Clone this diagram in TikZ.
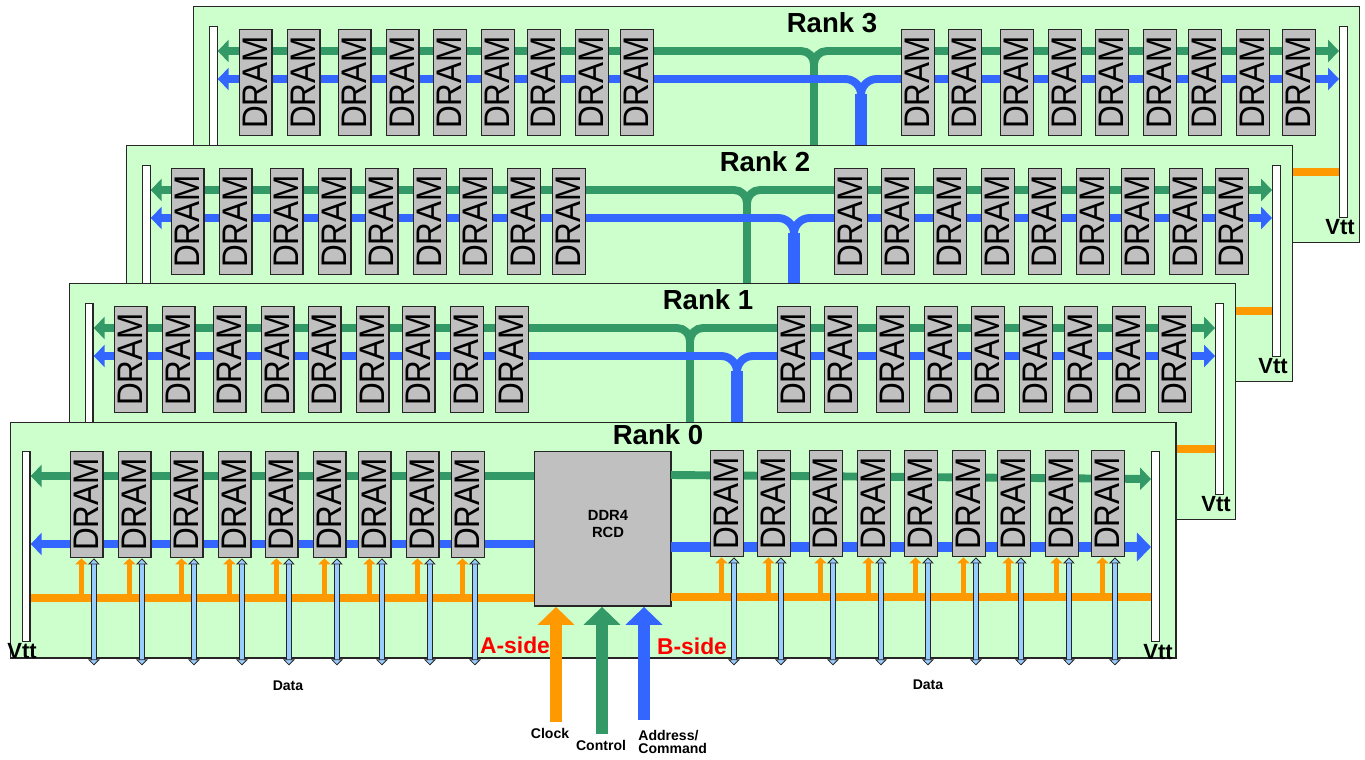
\documentclass[tikz,border=0pt]{standalone}
\usepackage{fontspec}
\usepackage{graphicx}
\setmainfont{Liberation Sans}
\usetikzlibrary{arrows.meta}
\definecolor{boardgreen}{HTML}{CCFFCC}
\definecolor{chipgray}{HTML}{C0C0C0}
\definecolor{ctrlgreen}{HTML}{339966}
\definecolor{addrblue}{HTML}{3366FF}
\definecolor{clkorange}{HTML}{FF9900}
\definecolor{databus}{HTML}{99CCFF}
\begin{document}
\begin{tikzpicture}[x=0.02cm, y=-0.02cm,
    board/.style={draw=black!85, fill=boardgreen, line width=.7pt, anchor=north west, inner sep=0pt, minimum width=23.32cm, minimum height=4.72cm},
    chip/.style={draw=black!85, fill=chipgray, line width=.8pt, anchor=north west, inner sep=0pt, minimum width=.65cm, minimum height=2.12cm, font=\fontsize{17.9}{18}\selectfont},
    bar/.style={draw=black!85, fill=white, line width=.7pt, anchor=north west, inner sep=0pt, minimum width=.15cm},
    ranklabel/.style={font=\fontsize{15.7}{16}\selectfont\bfseries, inner sep=0pt},
    vttlabel/.style={font=\fontsize{12.5}{13}\selectfont\bfseries, inner sep=0pt},
    smalllabel/.style={font=\fontsize{8}{7.4}\selectfont\bfseries, inner sep=0pt, align=center},
    sidelabel/.style={font=\fontsize{13}{14}\selectfont\bfseries, text=red, inner sep=0pt},
    bus/.style={line width=4.5pt, -{Triangle[length=6.2pt,width=12.5pt]}},
    stub/.style={clkorange, line width=2.6pt, {Triangle[length=3.4pt,width=7pt]}-},
    data/.style={draw=black!85, line width=.45pt, double=databus, double distance=2.6pt, {Triangle[length=3.4pt,width=6.6pt,fill=databus]}-{Triangle[length=3.4pt,width=6.6pt,fill=databus]}},
    bigarrow/.style={line width=7.2pt, -{Triangle[length=10.2pt,width=20.4pt]}}]

    \useasboundingbox (0,0) rectangle (1365,760);

    % Define the three rear ranks (back to front)
    \foreach \r/\bx/\by/\lx in {3/193/6/46, 2/126/145/45, 1/69/283/45} {
        \begin{scope}[shift={(\bx,\by)}]
            \node[board] (B\r) at (0,0) {};
            \node[bar, minimum height=2.4cm] (VL\r) at (16,20) {};
            \node[bar, minimum height=3.82cm] (VR\r) at (1146,20) {};
            \coordinate (GJ\r) at (621,45);
            \coordinate (BJ\r) at (668,73);
            \coordinate (CK\r) at (1000,166);

            % Draw the buses branching off the vertical feeds
            \draw[ctrlgreen, bus, rounded corners=7.4pt] (GJ\r |- B\r.south) -- (GJ\r) -- (VL\r.east |- GJ\r);
            \draw[ctrlgreen, bus, rounded corners=7.4pt] (GJ\r |- B\r.south) -- (GJ\r) -- (VR\r.west |- GJ\r);
            \draw[addrblue, bus, rounded corners=9pt] (BJ\r |- B\r.south) -- (BJ\r) -- (VL\r.east |- BJ\r);
            \draw[addrblue, bus, rounded corners=9pt] (BJ\r |- B\r.south) -- (BJ\r) -- (VR\r.west |- BJ\r);
            \draw[addrblue, line width=6.6pt] ([yshift=-.3cm]BJ\r) -- (BJ\r |- B\r.south);
            \draw[clkorange, line width=4pt] (CK\r) -- (VR\r.west |- CK\r);

            % Define the chips of both sides
            \foreach \i/\dx in {1/0, 2/48, 3/99, 4/147, 5/194, 6/242, 7/288, 8/336, 9/381} {
                \node[chip] (A\r\i) at (\lx+\dx,23) {\rotatebox{90}{\raisebox{1pt}{\scalebox{1}[1.13]{DRAM}}}};
            }
            \foreach \i/\dx in {1/0, 2/47, 3/99, 4/147, 5/194, 6/242, 7/287, 8/335, 9/381} {
                \node[chip] (C\r\i) at (708+\dx,23) {\rotatebox{90}{\raisebox{1pt}{\scalebox{1}[1.13]{DRAM}}}};
            }
            \node[ranklabel] (T\r) at (639,17) {Rank \r};
            \node[vttlabel] (W\r) at (1147,221) {Vtt};
        \end{scope}
    }

    % Define the front rank
    \node[board, minimum width=23.31cm, minimum height=4.71cm] (B0) at (10,422) {};
    \node[ranklabel] (T0) at (658,435) {Rank 0};
    \node[bar, minimum height=3.8cm] (VL0) at (22,451) {};
    \node[bar, minimum height=3.8cm] (VR0) at (1151,451) {};
    \node[draw=black!85, fill=chipgray, line width=.8pt, anchor=north west, inner sep=0pt, minimum width=2.73cm, minimum height=3.09cm] (RCD) at (534,451) {};
    \node[font=\fontsize{8.4}{10.2}\selectfont\bfseries, align=center, inner sep=0pt] (RT) at (608,524) {DDR4\\RCD};
    \coordinate (GA) at (534,476);
    \coordinate (GB) at (671,475);
    \coordinate (GE) at (1151,479);
    \coordinate (AA) at (534,544);
    \coordinate (AB) at (671,547);
    \coordinate (KA) at (534,598);
    \coordinate (KB) at (671,597);

    % Draw the front rank buses
    \draw[ctrlgreen, bus] (GA) -- (VL0.east |- GA);
    \draw[ctrlgreen, bus] (GB) -- (GE);
    \draw[addrblue, bus] (AA) -- (VL0.east |- AA);
    \draw[addrblue, line width=5.6pt, -{Triangle[length=8pt,width=16pt]}] (AB) -- (VR0.west |- AB);
    \draw[clkorange, line width=4pt] (KA) -- (VL0.east |- KA);
    \draw[clkorange, line width=4pt] (KB) -- (VR0.west |- KB);

    % Define the front rank chips, with clock stubs and data arrows
    \foreach \i/\dx in {1/0, 2/48, 3/100, 4/148, 5/195, 6/243, 7/288, 8/336, 9/381} {
        \node[chip] (A0\i) at (70+\dx,451) {\rotatebox{90}{\raisebox{1pt}{\scalebox{1}[1.13]{DRAM}}}};
        \draw[stub] ([xshift=-.11cm]A0\i.south) -- ++(0,40);
        \draw[data] ([xshift=.14cm]A0\i.south) -- ++(0,107);
    }
    \foreach \i/\dx in {1/0, 2/47, 3/99, 4/147, 5/194, 6/242, 7/287, 8/335, 9/381} {
        \node[chip] (C0\i) at (710+\dx,450) {\rotatebox{90}{\raisebox{1pt}{\scalebox{1}[1.13]{DRAM}}}};
        \draw[stub] ([xshift=-.11cm]C0\i.south) -- ++(0,41);
        \draw[data] ([xshift=.14cm]C0\i.south) -- ++(0,108);
    }
    \node[vttlabel] (W0) at (22,651) {Vtt};
    \node[vttlabel] (W4) at (1158,652) {Vtt};

    % Draw the three inputs of the register
    \coordinate (IK) at (556,722);
    \coordinate (IC) at (602,734);
    \coordinate (IA) at (644,720);
    \draw[clkorange, bigarrow] (IK) -- (IK |- RCD.south);
    \draw[ctrlgreen, bigarrow] (IC) -- (IC |- RCD.south);
    \draw[addrblue, bigarrow] (IA) -- (IA |- RCD.south);

    \node[sidelabel] (SA) at (515,645) {A-side};
    \node[sidelabel] (SB) at (692,646) {B-side};
    \node[smalllabel] (D1) at (288,686) {Data};
    \node[smalllabel] (D2) at (928,685) {Data};
    \node[smalllabel] (LK) at (550,733) {Clock};
    \node[smalllabel] (LC) at (601,745) {Control};
    \node[smalllabel, align=left, anchor=west] (LA) at (638,742) {Address/\\Command};

\end{tikzpicture}
\end{document}
